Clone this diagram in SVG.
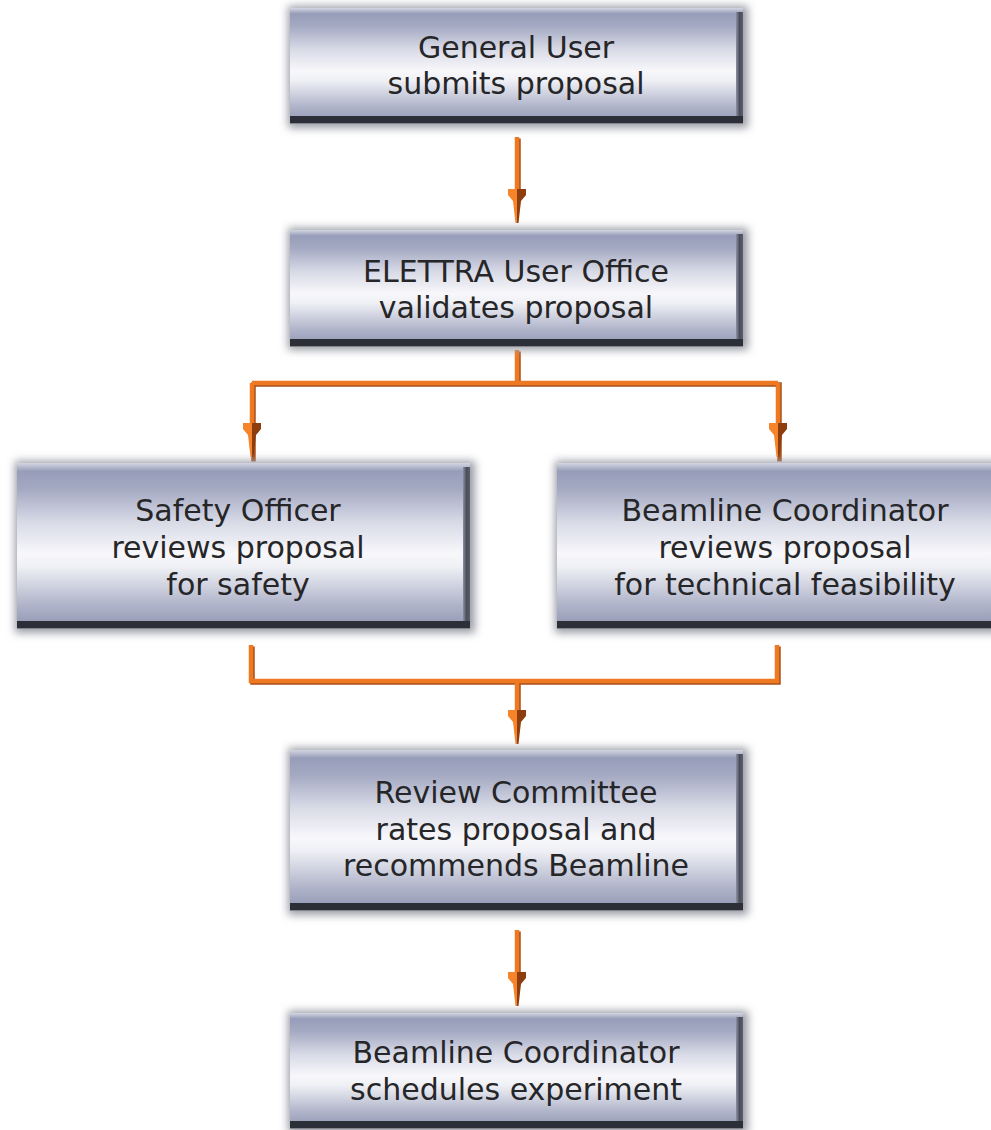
<svg xmlns="http://www.w3.org/2000/svg" width="991" height="1130" viewBox="0 0 991 1130">
<style>
.face{fill:url(#faceGrad)}
.band{fill:#2c2f38}
.under{fill:#85878f}
.edge{fill:url(#edgeGrad)}
.shadow{fill:#9a9ca4;filter:url(#blur)}
.t{font-family:"DejaVu Sans","Verdana",sans-serif;font-size:30px;fill:#262628;text-anchor:middle}
.ln{fill:none;stroke:#ef7822;stroke-width:4.5;stroke-linejoin:miter}
.lns{fill:none;stroke:#a9501a;stroke-width:4.5;stroke-linejoin:miter}
</style>
<defs>
<linearGradient id="faceGrad" x1="0" y1="0" x2="0" y2="1">
<stop offset="0" stop-color="#d3d6e1"/>
<stop offset="0.05" stop-color="#979db9"/>
<stop offset="0.16" stop-color="#a5aac3"/>
<stop offset="0.36" stop-color="#d8dae6"/>
<stop offset="0.55" stop-color="#f8f8fb"/>
<stop offset="0.63" stop-color="#eff0f5"/>
<stop offset="0.85" stop-color="#b2b6cb"/>
<stop offset="1" stop-color="#9197b4"/>
</linearGradient>
<linearGradient id="edgeGrad" x1="0" y1="0" x2="1" y2="0">
<stop offset="0" stop-color="#8c90a4"/>
<stop offset="0.5" stop-color="#4a4d5a"/>
<stop offset="1" stop-color="#5c5f6a"/>
</linearGradient>
<filter id="blur" x="-10%" y="-20%" width="120%" height="140%">
<feGaussianBlur stdDeviation="4"/>
</filter>
<marker id="arr" viewBox="-5 -10 37 20" refX="0" refY="0" markerWidth="37" markerHeight="20" markerUnits="userSpaceOnUse" orient="auto">
<path d="M-4,0 L-4,9 L2,9 L8,4 L30,1.5 L30,0 Z" fill="#f5842a"/>
<path d="M-4,0 L-4,-9 L2,-9 L8,-4 L30,-1.5 L30,0 Z" fill="#8e3d0e"/>
</marker>
</defs>

<g id="connectors">
<g transform="translate(1.5,1.5)">
<path class="lns" d="M517,137 V193"/>
<path class="lns" d="M517,350 V383 M252,460 V383 H778 V460"/>
<path class="lns" d="M251,645 V681 H777 V645 M517,681 V714"/>
<path class="lns" d="M517,930 V976"/>
</g>
<path class="ln" d="M517,137 V193" marker-end="url(#arr)"/>
<path class="ln" d="M517,350 V383"/>
<path class="ln" d="M252,383 H778"/>
<path class="ln" d="M252,383 V427" marker-end="url(#arr)"/>
<path class="ln" d="M778,383 V427" marker-end="url(#arr)"/>
<path class="ln" d="M251,645 V681 H777 V645"/>
<path class="ln" d="M517,681 V714" marker-end="url(#arr)"/>
<path class="ln" d="M517,930 V976" marker-end="url(#arr)"/>
</g>

<g id="node1">
<rect class="shadow" x="288" y="6" width="460" height="122"/>
<rect class="face" x="290" y="8" width="453" height="115"/>
<rect class="edge" x="736" y="12" width="7" height="111"/>
<rect class="under" x="290" y="122" width="453" height="2"/>
<rect class="band" x="290" y="116" width="453" height="7"/>
<text class="t" x="516" y="58">General User</text>
<text class="t" x="516" y="94">submits proposal</text>
</g>

<g id="node2">
<rect class="shadow" x="288" y="228" width="460" height="122"/>
<rect class="face" x="290" y="230" width="453" height="116"/>
<rect class="edge" x="736" y="234" width="7" height="112"/>
<rect class="under" x="290" y="345" width="453" height="2"/>
<rect class="band" x="290" y="339" width="453" height="7"/>
<text class="t" x="516" y="282">ELETTRA User Office</text>
<text class="t" x="516" y="318">validates proposal</text>
</g>

<g id="node3">
<rect class="shadow" x="15" y="461" width="460" height="172"/>
<rect class="face" x="17" y="463" width="453" height="165"/>
<rect class="edge" x="463" y="467" width="7" height="161"/>
<rect class="under" x="17" y="627" width="453" height="2"/>
<rect class="band" x="17" y="621" width="453" height="7"/>
<text class="t" x="238" y="521">Safety Officer</text>
<text class="t" x="238" y="558">reviews proposal</text>
<text class="t" x="238" y="595">for safety</text>
</g>

<g id="node4">
<rect class="shadow" x="555" y="461" width="460" height="172"/>
<rect class="face" x="557" y="463" width="453" height="165"/>
<rect class="edge" x="1003" y="467" width="7" height="161"/>
<rect class="under" x="557" y="627" width="453" height="2"/>
<rect class="band" x="557" y="621" width="453" height="7"/>
<text class="t" x="785" y="521">Beamline Coordinator</text>
<text class="t" x="785" y="558">reviews proposal</text>
<text class="t" x="785" y="595">for technical feasibility</text>
</g>

<g id="node5">
<rect class="shadow" x="288" y="748" width="460" height="167"/>
<rect class="face" x="290" y="750" width="453" height="160"/>
<rect class="edge" x="736" y="754" width="7" height="156"/>
<rect class="under" x="290" y="909" width="453" height="2"/>
<rect class="band" x="290" y="903" width="453" height="7"/>
<text class="t" x="516" y="803">Review Committee</text>
<text class="t" x="516" y="840">rates proposal and</text>
<text class="t" x="516" y="876">recommends Beamline</text>
</g>

<g id="node6">
<rect class="shadow" x="288" y="1011" width="460" height="122"/>
<rect class="face" x="290" y="1013" width="453" height="115"/>
<rect class="edge" x="736" y="1017" width="7" height="111"/>
<rect class="under" x="290" y="1127" width="453" height="2"/>
<rect class="band" x="290" y="1121" width="453" height="7"/>
<text class="t" x="516" y="1063">Beamline Coordinator</text>
<text class="t" x="516" y="1100">schedules experiment</text>
</g>
</svg>
